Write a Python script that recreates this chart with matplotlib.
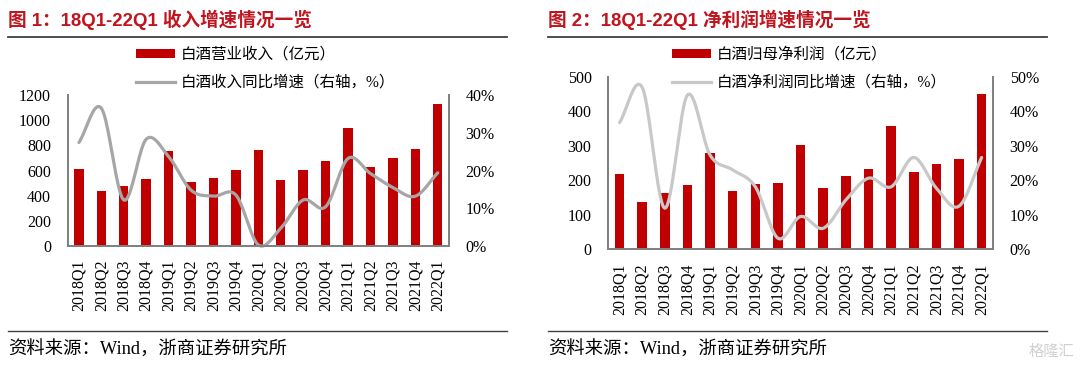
import matplotlib.pyplot as plt
import numpy as np
from matplotlib.lines import Line2D
from matplotlib.patches import Patch
from matplotlib.ticker import FuncFormatter

plt.rcParams['font.family'] = ['Liberation Serif', 'Noto Sans CJK SC']

quarters = ['2018Q1', '2018Q2', '2018Q3', '2018Q4', '2019Q1', '2019Q2', '2019Q3', '2019Q4',
            '2020Q1', '2020Q2', '2020Q3', '2020Q4', '2021Q1', '2021Q2', '2021Q3', '2021Q4', '2022Q1']

# chart 1: revenue (100m yuan) and yoy growth (%)
revenue = [615, 440, 475, 535, 757, 506, 540, 607, 766, 527, 607, 676, 940, 628, 702, 768, 1128]
revenue_yoy = [27.4, 36.5, 12.2, 28.3, 23.7, 14.8, 13.2, 13.5, 0.3, 4.7, 12.2, 10.4, 23.2, 19.2, 15.5, 13.2, 19.4]

# chart 2: net profit attributable (100m yuan) and yoy growth (%)
profit = [218, 137, 162, 186, 278, 168, 188, 192, 303, 178, 213, 232, 357, 224, 247, 261, 451]
profit_yoy = [36.7, 46.9, 11.9, 44.7, 27.3, 23.0, 18.1, 3.2, 9.5, 6.1, 14.3, 20.6, 18.1, 26.6, 17.7, 12.5, 26.6]

RED = '#C00000'
TITLE_RED = '#C0141E'
SPINE = '#808080'


def smooth(x, y, n=20):
    # catmull-rom style curve through the points, like excel's smoothed line
    x = np.asarray(x, float)
    y = np.asarray(y, float)
    px = np.concatenate([[2 * x[0] - x[1]], x, [2 * x[-1] - x[-2]]])
    py = np.concatenate([[2 * y[0] - y[1]], y, [2 * y[-1] - y[-2]]])
    xs, ys = [], []
    t = np.linspace(0, 1, n, endpoint=False)
    for i in range(1, len(px) - 2):
        for arr, out in ((px, xs), (py, ys)):
            p0, p1, p2, p3 = arr[i - 1], arr[i], arr[i + 1], arr[i + 2]
            c1 = p1 + (p2 - p0) / 6
            c2 = p2 - (p3 - p1) / 6
            out.extend((1 - t) ** 3 * p1 + 3 * (1 - t) ** 2 * t * c1 + 3 * (1 - t) * t ** 2 * c2 + t ** 3 * p2)
    xs.append(x[-1])
    ys.append(y[-1])
    return np.array(xs), np.array(ys)


fig = plt.figure(figsize=(10.8, 3.76), dpi=100)


def panel(rect, bars, yoy, ymax, ystep, y2max, line_color, bar_label, line_label, title, left):
    ax = fig.add_axes(rect)
    x = np.arange(len(quarters))
    ax.bar(x, bars, width=0.42, color=RED, zorder=2)
    ax.set_xlim(-0.5, len(quarters) - 0.5)
    ax.set_ylim(0, ymax)
    ax.set_yticks(np.arange(0, ymax + 1, ystep))
    ax.set_xticks(x)
    ax.set_xticklabels(quarters, rotation=90, fontsize=11.5)
    ax.tick_params(axis='both', length=0, labelsize=11.5)
    ax.tick_params(axis='x', pad=10)
    ax.tick_params(axis='y', pad=12)
    ax.spines['top'].set_visible(False)
    for s in ('left', 'bottom', 'right'):
        ax.spines[s].set_color(SPINE)
        ax.spines[s].set_linewidth(1.3)

    ax2 = ax.twinx()
    sx, sy = smooth(x, yoy)
    ax2.plot(sx, sy, color=line_color, linewidth=2.3, solid_capstyle='round', clip_on=False)
    ax2.set_ylim(0, y2max)
    ax2.set_yticks(np.arange(0, y2max + 1, 10))
    ax2.yaxis.set_major_formatter(FuncFormatter(lambda v, p: '%d%%' % v))
    ax2.tick_params(axis='y', length=0, labelsize=11.5, pad=12)
    ax2.spines['top'].set_visible(False)
    for s in ('left', 'bottom', 'right'):
        ax2.spines[s].set_color(SPINE)
        ax2.spines[s].set_linewidth(1.3)

    handles = [Patch(facecolor=RED, edgecolor='none'), Line2D([], [], color=line_color, linewidth=2.3)]
    ax2.legend(handles, [bar_label, line_label], loc='upper left', frameon=False,
               bbox_to_anchor=left, bbox_transform=fig.transFigure,
               fontsize=11.2, borderpad=0, borderaxespad=0, handlelength=2.5,
               handleheight=0.55, handletextpad=0.4, labelspacing=0.75)

    # title, rules and source
    x0 = rect[0] - 0.0555
    fig.text(x0, 1 - 20 / 376, title, fontsize=13.4, fontweight='bold', color=TITLE_RED,
             family=['Liberation Sans', 'Noto Sans CJK SC'], va='center', ha='left')
    fig.add_artist(Line2D([x0, x0 + 499 / 1080], [1 - 37 / 376] * 2, color='#404040', linewidth=1.3,
                          transform=fig.transFigure))
    fig.add_artist(Line2D([x0, x0 + 499 / 1080], [1 - 331 / 376] * 2, color='#404040', linewidth=1.0,
                          transform=fig.transFigure))
    fig.text(x0, 1 - 350 / 376, '资料来源：Wind，浙商证券研究所', fontsize=13.2, color='black',
             va='center', ha='left')
    return ax


panel([0.0627, 0.3457, 0.3530, 0.4016], revenue, revenue_yoy, 1200, 200, 40, '#A6A6A6',
      '白酒营业收入（亿元）', '白酒收入同比增速（右轴，%）', '图 1：18Q1-22Q1 收入增速情况一览',
      (136 / 1080, 1 - 47 / 376))
panel([0.5632, 0.337, 0.3562, 0.459], profit, profit_yoy, 500, 100, 50, '#C8C8C8',
      '白酒归母净利润（亿元）', '白酒净利润同比增速（右轴，%）', '图 2：18Q1-22Q1 净利润增速情况一览',
      (672 / 1080, 1 - 47 / 376))

fig.text(0.995, 1 - 352 / 376, '格隆汇', fontsize=11, color='#D0D0D0', ha='right', va='center')

plt.savefig('out.png', dpi=100)
